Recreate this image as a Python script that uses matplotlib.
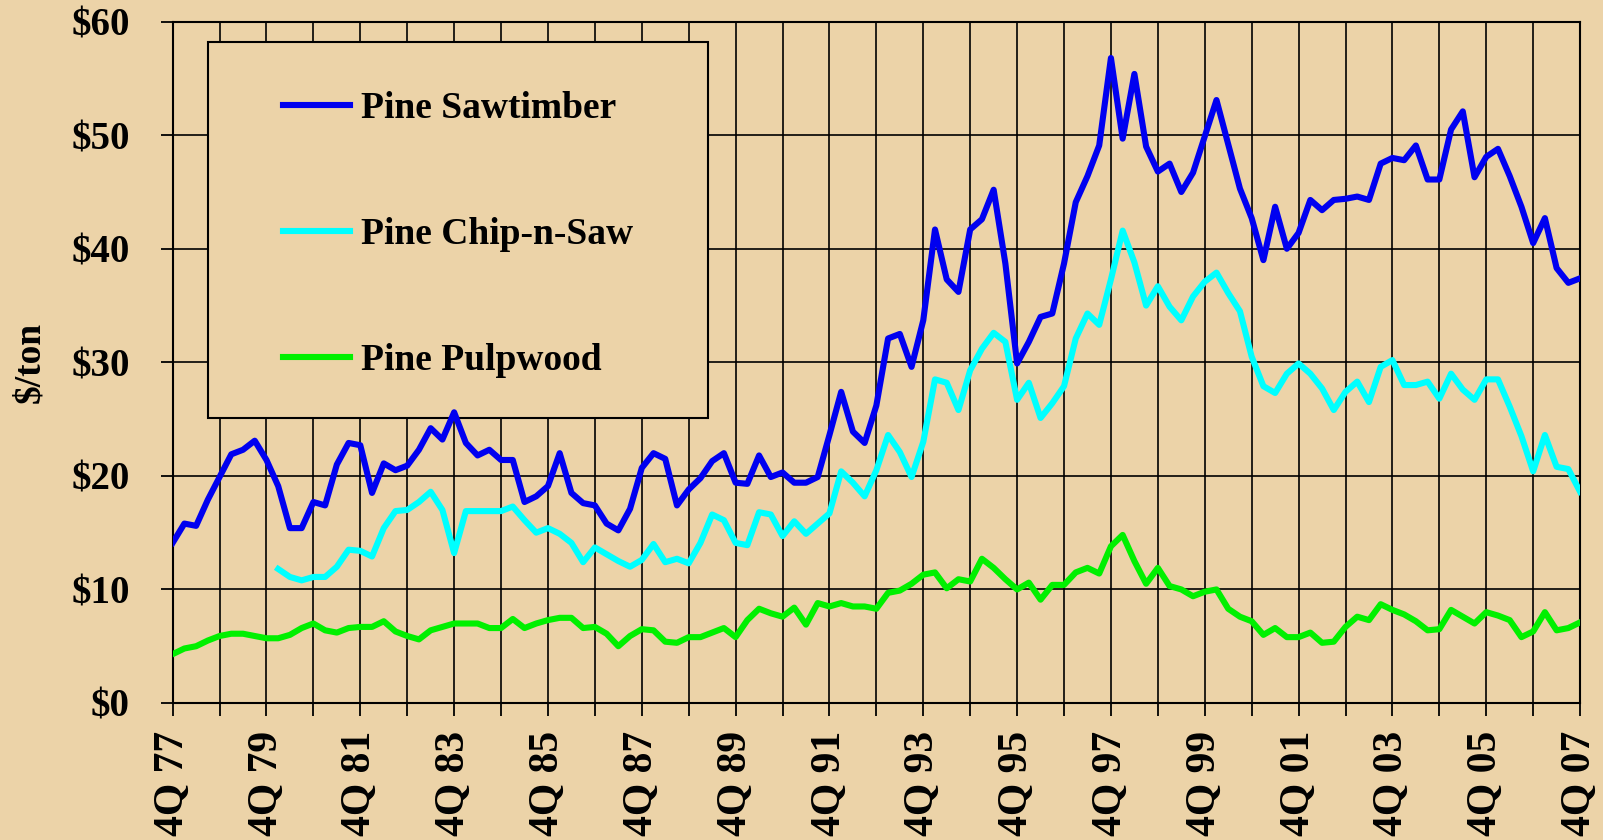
import numpy as np
import matplotlib
matplotlib.use('Agg')
import matplotlib.pyplot as plt
from matplotlib.patches import Rectangle

# quarterly prices, 4Q77 .. 4Q07 ($/ton)
sawtimber = [14.1, 15.8, 15.6, 17.9, 19.9, 21.9, 22.3, 23.1, 21.4, 19.1,
             15.4, 15.4, 17.7, 17.4, 21.0, 22.9, 22.7, 18.5, 21.1, 20.5,
             20.9, 22.3, 24.2, 23.2, 25.6, 22.9, 21.8, 22.3, 21.4, 21.4,
             17.7, 18.2, 19.1, 22.0, 18.5, 17.6, 17.4, 15.8, 15.2, 17.1,
             20.7, 22.0, 21.5, 17.4, 18.8, 19.8, 21.3, 22.0, 19.4, 19.3,
             21.8, 19.9, 20.3, 19.4, 19.4, 19.9, 23.6, 27.4, 23.9, 22.9,
             26.2, 32.1, 32.5, 29.6, 33.7, 41.7, 37.3, 36.2, 41.7, 42.6,
             45.2, 38.7, 29.9, 31.8, 34.0, 34.3, 38.7, 44.1, 46.4, 49.1,
             56.8, 49.7, 55.4, 49.0, 46.8, 47.5, 45.0, 46.7, 49.9, 53.1,
             49.2, 45.3, 42.7, 39.0, 43.7, 40.0, 41.4, 44.3, 43.4, 44.3,
             44.4, 44.6, 44.3, 47.5, 48.0, 47.8, 49.1, 46.1, 46.1, 50.5,
             52.1, 46.3, 48.1, 48.8, 46.4, 43.7, 40.5, 42.7, 38.3, 37.0,
             37.4]

chip_n_saw = [np.nan] * 9 + [
    11.8, 11.1, 10.8, 11.1, 11.1, 12.0, 13.5, 13.4, 12.9, 15.4, 16.9,
    17.0, 17.7, 18.6, 17.0, 13.2, 16.9, 16.9, 16.9, 16.9, 17.3,
    16.1, 15.0, 15.4, 14.9, 14.1, 12.4, 13.7, 13.1, 12.5, 12.0,
    12.6, 14.0, 12.4, 12.7, 12.3, 14.1, 16.6, 16.1, 14.1, 13.9,
    16.8, 16.6, 14.7, 16.0, 14.9, 15.8, 16.7, 20.4, 19.4, 18.2,
    20.5, 23.6, 22.1, 19.9, 23.0, 28.5, 28.2, 25.8, 29.3, 31.2,
    32.6, 31.8, 26.7, 28.2, 25.1, 26.4, 27.9, 32.1, 34.3, 33.3,
    37.3, 41.6, 38.8, 35.0, 36.7, 34.9, 33.7, 35.8, 37.1, 37.9,
    36.1, 34.5, 30.5, 27.9, 27.3, 29.0, 29.9, 29.0, 27.7, 25.8,
    27.4, 28.3, 26.5, 29.6, 30.2, 28.0, 28.0, 28.3, 26.8, 29.0,
    27.6, 26.7, 28.5, 28.5, 26.1, 23.5, 20.4, 23.6, 20.8, 20.6,
    18.6]

pulpwood = [4.3, 4.8, 5.0, 5.5, 5.9, 6.1, 6.1, 5.9, 5.7, 5.7,
            6.0, 6.6, 7.0, 6.4, 6.2, 6.6, 6.7, 6.7, 7.2, 6.3,
            5.9, 5.6, 6.4, 6.7, 7.0, 7.0, 7.0, 6.6, 6.6, 7.4,
            6.6, 7.0, 7.3, 7.5, 7.5, 6.6, 6.7, 6.1, 5.0, 5.9,
            6.5, 6.4, 5.4, 5.3, 5.8, 5.8, 6.2, 6.6, 5.8, 7.3,
            8.3, 7.9, 7.6, 8.4, 6.9, 8.8, 8.5, 8.8, 8.5, 8.5,
            8.3, 9.7, 9.9, 10.5, 11.3, 11.5, 10.1, 10.9, 10.7, 12.7,
            11.9, 10.9, 10.0, 10.6, 9.1, 10.4, 10.4, 11.5, 11.9, 11.4,
            13.8, 14.8, 12.5, 10.5, 11.9, 10.3, 10.0, 9.4, 9.8, 10.0,
            8.3, 7.6, 7.2, 6.0, 6.6, 5.8, 5.8, 6.2, 5.3, 5.4,
            6.7, 7.6, 7.3, 8.7, 8.2, 7.8, 7.2, 6.4, 6.5, 8.2,
            7.6, 7.0, 8.0, 7.7, 7.3, 5.8, 6.3, 8.0, 6.4, 6.6,
            7.1]

year_labels = ['4Q 77', '4Q 79', '4Q 81', '4Q 83', '4Q 85', '4Q 87', '4Q 89', '4Q 91',
               '4Q 93', '4Q 95', '4Q 97', '4Q 99', '4Q 01', '4Q 03', '4Q 05', '4Q 07']
y_ticks = [0, 10, 20, 30, 40, 50, 60]

bg = '#ECD3A8'
font = 'Liberation Serif'

fig = plt.figure(figsize=(16.03, 8.40), dpi=100, facecolor=bg)
ax = fig.add_axes([0.1077, 0.1631, 0.8780, 0.8111], facecolor=bg)

quarters = np.arange(len(sawtimber))
ax.plot(quarters, sawtimber, color='#0000F0', lw=4.4, zorder=4, label='Pine Sawtimber')
ax.plot(quarters, chip_n_saw, color='#00FFFF', lw=4.4, zorder=4, label='Pine Chip-n-Saw')
ax.plot(quarters, pulpwood, color='#00F000', lw=4.4, zorder=4, label='Pine Pulpwood')

ax.set_xlim(0, len(sawtimber) - 1)
ax.set_ylim(0, 60)

# yearly ticks, label every second year
year_ticks = np.arange(0, len(sawtimber), 4)
ax.set_xticks(year_ticks)
labels = []
for i in range(len(year_ticks)):
    labels.append(year_labels[i // 2] if i % 2 == 0 else '')
ax.set_xticklabels(labels, fontfamily=font, fontweight='bold', fontsize=30, rotation=90)
ax.set_yticks(y_ticks)
ax.set_yticklabels(['$%d' % v for v in y_ticks], fontfamily=font, fontweight='bold', fontsize=28)

ax.tick_params(axis='x', direction='out', length=9, width=1.3, pad=11, colors='black')
ax.tick_params(axis='y', direction='out', length=9, width=1.3, pad=22, colors='black')

ax.set_axisbelow(True)
ax.grid(True, color='black', lw=1.2)
for s in ax.spines.values():
    s.set_color('black')
    s.set_linewidth(1.5)

ax.set_ylabel('$/ton', fontfamily=font, fontweight='bold', fontsize=27)
ax.yaxis.set_label_coords(-0.089, 0.5)

# legend box
ax.add_patch(Rectangle((0.0251, 0.418), 0.3553, 0.552, transform=ax.transAxes,
                       facecolor=bg, edgecolor='black', lw=1.5, zorder=3))
leg = ax.legend(loc='upper left', bbox_to_anchor=(0.0784, 0.898), frameon=False,
                borderpad=0, borderaxespad=0, handlelength=1.8, handletextpad=0.28,
                labelspacing=2.42, prop={'family': font, 'weight': 'bold', 'size': 27})
leg.set_zorder(5)

fig.savefig('out.png', dpi=100, facecolor=bg)
